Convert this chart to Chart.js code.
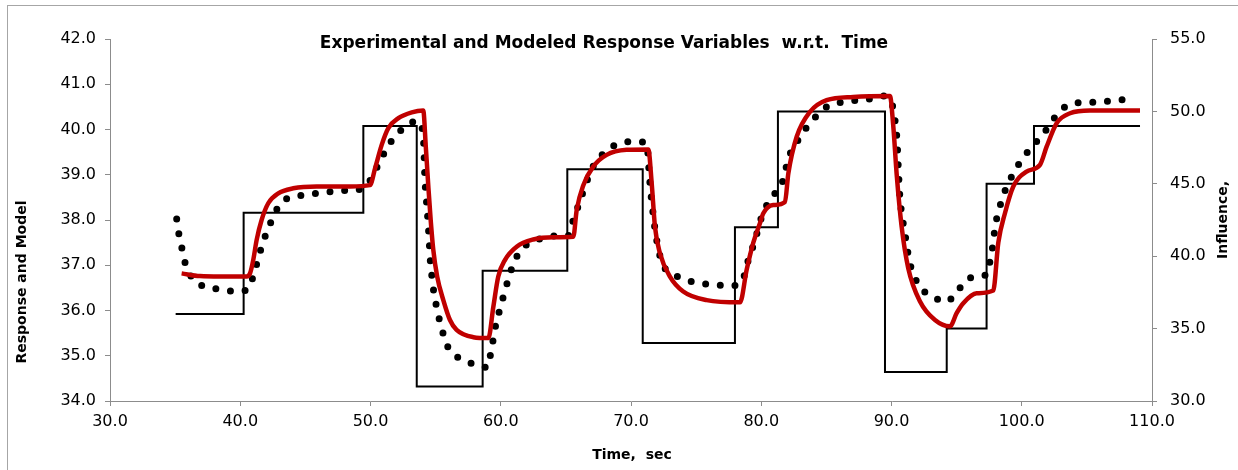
<!DOCTYPE html>
<html>
<head>
<meta charset="utf-8">
<script src="https://cdn.jsdelivr.net/npm/chart.js@4/dist/chart.umd.min.js"></script>
<style>
  html, body { margin: 0; padding: 0; background: #fff; }
  #wrap { width: 1238px; height: 470px; position: relative; }
</style>
</head>
<body>
<div id="wrap"><canvas id="responseChart"></canvas></div>
<script>
// experimental response (dotted), left axis
const expTime = [35.12, 35.30, 35.55, 35.81, 36.35, 37.22, 38.37, 39.47, 40.49, 41.00, 41.31, 41.64, 42.03, 42.49, 43.05, 43.95,
  45.05, 46.12, 47.22, 48.35, 49.45, 50.15, 50.64, 51.19, 51.83, 52.64, 53.59, 54.05, 54.10, 54.18, 54.26, 54.36, 54.44, 54.51,
  54.57, 54.69, 54.82, 55.03, 55.28, 55.59, 56.00, 56.87, 57.90, 58.97, 59.22, 59.42, 59.63, 59.94, 60.25, 60.58, 60.96, 61.48,
  62.25, 63.26, 64.29, 65.20, 65.57, 65.95, 66.33, 66.72, 67.16, 68.13, 69.16, 70.25, 71.24, 71.32, 71.40, 71.50, 71.63, 71.76,
  71.92, 72.14, 72.47, 73.50, 74.53, 75.56, 76.57, 77.65, 78.55, 78.85, 79.23, 79.60, 79.85, 80.34, 80.92, 81.57, 81.87, 82.20,
  82.79, 83.44, 84.17, 85.02, 86.09, 87.14, 88.27, 89.37, 90.06, 90.27, 90.40, 90.47, 90.52, 90.58, 90.65, 90.78, 90.96, 91.16,
  91.34, 91.68, 92.19, 93.08, 94.11, 94.93, 95.60, 96.60, 97.40, 97.61, 97.81, 97.95, 98.20, 98.53, 98.97, 99.53, 100.17, 100.90,
  101.65, 102.30, 103.00, 104.01, 105.11, 106.18, 107.28, 108.44];
const expValue = [38.02, 37.67, 37.34, 37.01, 36.71, 36.53, 36.47, 36.43, 36.45, 36.76, 37.08, 37.41, 37.73, 38.04, 38.35, 38.51,
  38.55, 38.60, 38.63, 38.66, 38.70, 38.96, 39.25, 39.55, 39.83, 40.05, 40.19, 39.89, 39.55, 38.88, 38.55, 38.18, 37.85, 37.52,
  37.19, 36.82, 36.49, 36.14, 35.81, 35.48, 35.16, 34.94, 34.82, 34.74, 35.04, 35.36, 35.70, 36.03, 36.36, 36.69, 37.02, 37.31,
  37.50, 37.60, 37.65, 37.66, 38.00, 38.31, 38.63, 38.94, 39.22, 39.53, 39.70, 39.73, 39.70, 39.36, 39.02, 38.66, 38.31, 37.98,
  37.65, 37.30, 37.00, 36.76, 36.65, 36.59, 36.56, 36.55, 36.64, 36.97, 37.30, 37.63, 37.91, 38.28, 38.54, 38.79, 39.12, 39.45,
  39.75, 40.03, 40.28, 40.50, 40.60, 40.64, 40.67, 40.74, 40.54, 40.20, 39.86, 39.51, 39.16, 38.82, 38.48, 38.15, 37.82, 37.47,
  37.13, 36.81, 36.51, 36.33, 36.19, 36.36, 36.64, 36.75, 36.82, 37.19, 37.49, 37.85, 38.16, 38.50, 38.81, 39.12, 39.40, 39.66,
  39.90, 40.17, 40.43, 40.58, 40.60, 40.61, 40.65, 40.67];

// model (red line), left axis
const modelTime = [35.50, 36.91, 38.45, 40.49, 40.75, 41.00, 41.26, 41.64, 42.15, 42.92, 44.07, 45.87, 48.43, 49.96, 50.35, 50.86,
  51.37, 52.14, 53.17, 54.05, 54.25, 54.45, 54.62, 54.82, 55.12, 55.59, 56.10, 56.61, 57.90, 59.05, 59.43, 59.81, 60.33, 61.22,
  62.50, 64.04, 65.57, 65.83, 66.34, 67.10, 68.13, 69.66, 71.33, 71.59, 71.84, 72.23, 72.99, 74.01, 75.81, 78.37, 78.88, 79.39,
  79.90, 80.16, 80.92, 81.82, 82.08, 82.72, 83.74, 85.02, 87.06, 89.88, 90.13, 90.40, 90.78, 91.29, 92.19, 93.34, 94.49, 95.00,
  95.51, 96.53, 97.81, 98.20, 98.71, 99.35, 100.37, 101.40, 101.91, 102.68, 103.71, 105.24, 109.08];
const modelValue = [36.82, 36.76, 36.75, 36.75, 36.82, 37.12, 37.56, 38.00, 38.37, 38.59, 38.70, 38.74, 38.74, 38.77, 39.14, 39.66,
  40.03, 40.25, 40.38, 40.42, 39.60, 38.70, 38.00, 37.34, 36.75, 36.23, 35.79, 35.57, 35.41, 35.39, 36.08, 36.75, 37.12, 37.41,
  37.57, 37.62, 37.63, 38.22, 38.77, 39.18, 39.44, 39.55, 39.56, 38.81, 37.85, 37.26, 36.75, 36.42, 36.23, 36.18, 36.90, 37.50,
  37.93, 38.15, 38.33, 38.40, 39.03, 39.84, 40.39, 40.65, 40.72, 40.74, 40.10, 39.00, 37.85, 36.93, 36.20, 35.79, 35.65, 35.94,
  36.16, 36.38, 36.44, 37.50, 38.15, 38.74, 39.07, 39.22, 39.62, 40.14, 40.36, 40.42, 40.42];

// influence (step line), right axis
const inflTime = [35.04, 40.26, 49.45, 53.55, 58.61, 65.11, 70.90, 77.98, 81.28, 89.50, 94.24, 97.30, 100.94, 109.08];
const inflValue = [36, 43, 49, 31, 39, 46, 34, 42, 50, 32, 35, 45, 49, 49];

const xTicks = [30, 40, 50, 60, 70, 80, 90, 100, 110];

const toPoints = (xs, ys) => xs.map((x, i) => ({ x: x, y: ys[i] }));

const axisColor = '#8c8c8c';
const tickFont = { family: 'DejaVu Sans', size: 16 };

// excel-like frame and titles drawn on top of the canvas
const textPlugin = {
  id: 'excelText',
  afterDraw(chart) {
    const c = chart.ctx;
    c.save();
    c.strokeStyle = '#a6a6a6';
    c.lineWidth = 1;
    c.strokeRect(7.5, 5.5, 1400, 600);
    c.fillStyle = '#000';
    c.textAlign = 'center';
    c.textBaseline = 'middle';
    c.font = 'bold 17px "DejaVu Sans"';
    c.fillText('Experimental and Modeled Response Variables  w.r.t.  Time', 604, 44);
    c.font = 'bold 14px "DejaVu Sans"';
    c.fillText('Time,  sec', 632, 455);
    c.translate(22, 282);
    c.rotate(-Math.PI / 2);
    c.fillText('Response and Model', 0, 0);
    c.restore();
    c.save();
    c.fillStyle = '#000';
    c.textAlign = 'center';
    c.textBaseline = 'middle';
    c.font = 'bold 14px "DejaVu Sans"';
    c.translate(1223, 220);
    c.rotate(-Math.PI / 2);
    c.fillText('Influence,', 0, 0);
    c.restore();
  }
};

const ctx = document.getElementById('responseChart');
const responseChart = new Chart(ctx, {
  type: 'line',
  data: {
    datasets: [
      {
        label: 'Model',
        data: toPoints(modelTime, modelValue),
        yAxisID: 'y',
        borderColor: '#c00000',
        borderWidth: 4.5,
        pointRadius: 0,
        cubicInterpolationMode: 'monotone',
        order: 0
      },
      {
        label: 'Response',
        data: toPoints(expTime, expValue),
        yAxisID: 'y',
        borderColor: '#000',
        borderWidth: 7,
        borderDash: [0, 14.7],
        borderCapStyle: 'round',
        pointRadius: 0,
        cubicInterpolationMode: 'monotone',
        order: 1
      },
      {
        label: 'Influence',
        data: toPoints(inflTime, inflValue),
        yAxisID: 'y2',
        borderColor: '#000',
        borderWidth: 2,
        stepped: 'before',
        pointRadius: 0,
        order: 2
      }
    ]
  },
  options: {
    responsive: true,
    maintainAspectRatio: false,
    animation: false,
    layout: { padding: { top: 39, left: 0, right: 0, bottom: 0 } },
    scales: {
      x: {
        type: 'linear',
        min: 30,
        max: 110,
        afterBuildTicks: (scale) => { scale.ticks = xTicks.map(v => ({ value: v })); },
        afterFit: (scale) => { scale.height = 69; },
        border: { display: true, color: axisColor, width: 1 },
        grid: { display: true, drawOnChartArea: false, drawTicks: true, tickLength: 5, color: axisColor },
        ticks: { color: '#000', font: tickFont, padding: 6, maxRotation: 0, callback: (v) => Number(v).toFixed(1) }
      },
      y: {
        position: 'left',
        min: 34,
        max: 42,
        afterFit: (scale) => { scale.width = 110; },
        border: { display: true, color: axisColor, width: 1 },
        grid: { display: true, drawOnChartArea: false, drawTicks: true, tickLength: 5, color: axisColor },
        ticks: { stepSize: 1, color: '#000', font: tickFont, padding: 9, callback: (v) => Number(v).toFixed(1) }
      },
      y2: {
        position: 'right',
        min: 30,
        max: 55,
        afterFit: (scale) => { scale.width = 86; },
        border: { display: true, color: axisColor, width: 1 },
        grid: { display: true, drawOnChartArea: false, drawTicks: true, tickLength: 5, color: axisColor },
        ticks: { stepSize: 5, color: '#000', font: tickFont, padding: 13, callback: (v) => Number(v).toFixed(1) }
      }
    },
    plugins: {
      legend: { display: false },
      title: { display: false },
      tooltip: { enabled: false }
    }
  },
  plugins: [textPlugin]
});
</script>
</body>
</html>
